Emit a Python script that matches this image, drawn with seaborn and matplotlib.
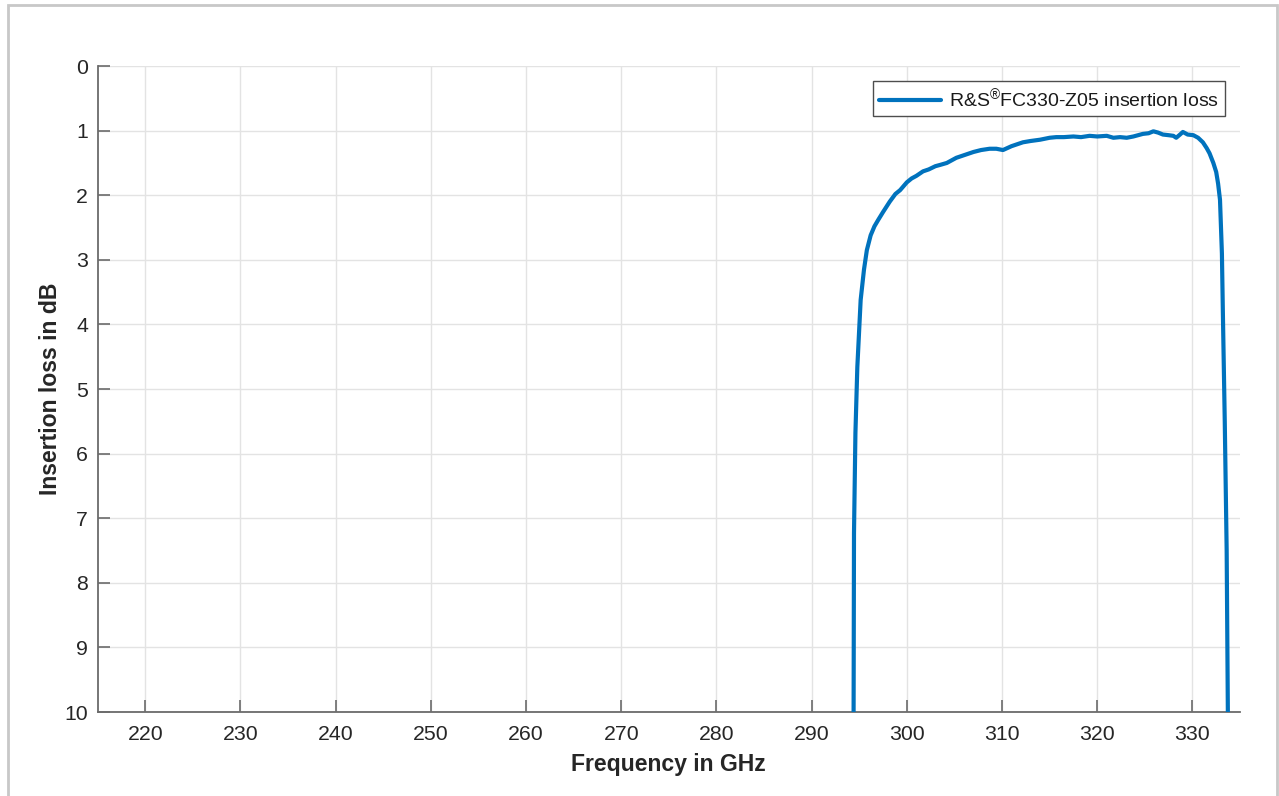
import matplotlib
matplotlib.use("Agg")
import matplotlib.pyplot as plt
from matplotlib.patches import Rectangle
import seaborn as sns
import pandas as pd

# ---- data ----
freq_ghz = [294.4, 294.45, 294.6, 294.8, 295.15, 295.5, 295.8, 296.2, 296.6, 297.0,
            297.5, 298.2, 298.8, 299.3, 300.0, 300.5, 301.0, 301.7, 302.3, 303.0,
            303.5, 304.2, 305.2, 306.0, 307.0, 307.8, 308.7, 309.4, 310.1, 311.0,
            312.2, 313.0, 314.0, 315.0, 315.7, 316.5, 317.5, 318.3, 319.2, 320.0,
            321.0, 321.7, 322.4, 323.1, 323.8, 324.8, 325.4, 325.9, 326.4, 326.9,
            327.5, 328.0, 328.3, 328.7, 329.0, 329.5, 330.1, 330.6, 331.1, 331.5,
            331.8, 332.2, 332.5, 332.7, 332.9, 333.1, 333.2, 333.4, 333.6, 333.75]
loss_db = [10.5, 7.23, 5.68, 4.66, 3.62, 3.15, 2.85, 2.62, 2.48, 2.38,
           2.26, 2.10, 1.98, 1.92, 1.80, 1.74, 1.70, 1.63, 1.60, 1.55,
           1.53, 1.50, 1.42, 1.38, 1.33, 1.30, 1.28, 1.28, 1.30, 1.24,
           1.18, 1.16, 1.14, 1.11, 1.10, 1.10, 1.09, 1.10, 1.08, 1.09,
           1.08, 1.11, 1.10, 1.11, 1.09, 1.05, 1.04, 1.01, 1.03, 1.06,
           1.07, 1.08, 1.11, 1.06, 1.02, 1.06, 1.07, 1.11, 1.18, 1.27,
           1.35, 1.50, 1.64, 1.82, 2.07, 2.90, 3.80, 5.50, 7.50, 10.5]
x_ticks = [220, 230, 240, 250, 260, 270, 280, 290, 300, 310, 320, 330]
y_ticks = [0, 1, 2, 3, 4, 5, 6, 7, 8, 9, 10]
series_label = r"R&S$^{\mathrm{®}}$FC330-Z05 insertion loss"

df = pd.DataFrame({"Frequency": freq_ghz, "Loss": loss_db})

sns.set_theme(style="white")
plt.rcParams["font.family"] = ["Liberation Sans", "DejaVu Sans"]
plt.rcParams["mathtext.fontset"] = "custom"
plt.rcParams["mathtext.rm"] = "Liberation Sans"
plt.rcParams["mathtext.it"] = "Liberation Sans:italic"
plt.rcParams["mathtext.bf"] = "Liberation Sans:bold"

fig = plt.figure(figsize=(12.79, 7.96), dpi=100)
ax = fig.add_axes([0.0764, 0.1055, 0.9695 - 0.0764, 0.917 - 0.1055])

sns.lineplot(data=df, x="Frequency", y="Loss", sort=False, ax=ax,
             color="#0072BD", linewidth=3.0, label=series_label, zorder=3)

ax.set_xlim(215, 335)
ax.set_ylim(10, 0)
ax.set_xticks(x_ticks)
ax.set_yticks(y_ticks)
ax.grid(True, color="#e3e3e3", linewidth=1.0, zorder=0)
ax.set_axisbelow(True)

for side in ["top", "right"]:
    ax.spines[side].set_visible(False)
for side in ["left", "bottom"]:
    ax.spines[side].set_color("#6b6b6b")
    ax.spines[side].set_linewidth(1.3)

ax.tick_params(axis="both", direction="in", length=8.5, width=1.2,
               color="#6b6b6b", labelsize=15.3, labelcolor="#262626",
               bottom=True, left=True, top=False, right=False)
ax.tick_params(axis="x", pad=9.5)
ax.tick_params(axis="y", pad=7)

ax.set_xlabel("Frequency in GHz", fontsize=16.6, fontweight="bold",
              color="#262626", labelpad=6)
ax.set_ylabel("Insertion loss in dB", fontsize=16.6, fontweight="bold",
              color="#262626", labelpad=2)

leg = ax.legend(loc="upper right", bbox_to_anchor=(0.987, 0.977), fontsize=14,
                frameon=True, fancybox=False, handlelength=3.2,
                borderpad=0.3, handletextpad=0.4, borderaxespad=0.0)
leg.get_frame().set_edgecolor("#4d4d4d")
leg.get_frame().set_linewidth(1.0)
leg.get_frame().set_alpha(1.0)
for t in leg.get_texts():
    t.set_color("#1a1a1a")

# outer light grey border
fig.patches.append(Rectangle((8 / 1279, -0.02), (1277 - 8) / 1279, 1 - 5 / 796 + 0.02,
                             transform=fig.transFigure, fill=False,
                             edgecolor="#c8c8c8", linewidth=2.0))

fig.savefig("out.png", dpi=100)
